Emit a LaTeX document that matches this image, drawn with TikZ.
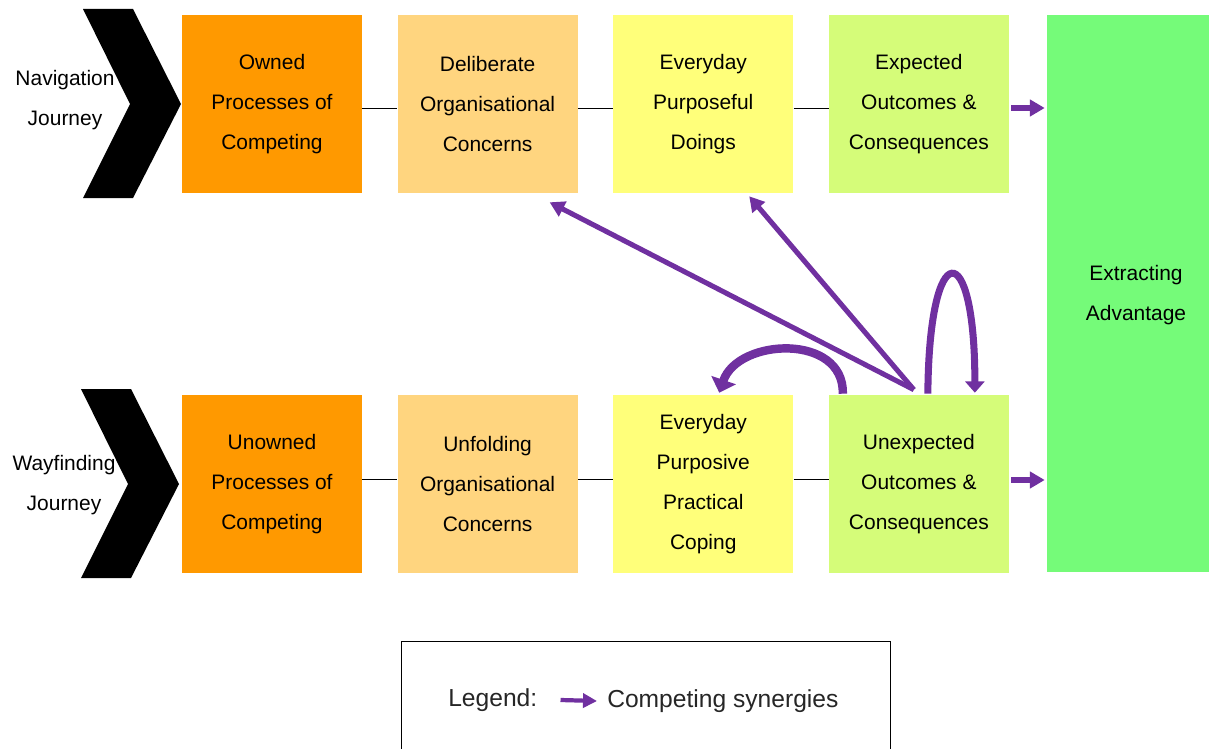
\documentclass[tikz,border=0pt]{standalone}
\usepackage{fontspec}
\setmainfont{Liberation Sans}
\usetikzlibrary{arrows.meta, positioning, calc}
\definecolor{ownedcol}{HTML}{FF9900}
\definecolor{concerncol}{HTML}{FFD57F}
\definecolor{doingcol}{HTML}{FFFF7A}
\definecolor{outcomecol}{HTML}{D5FC79}
\definecolor{advantagecol}{HTML}{75FB79}
\definecolor{synergycol}{HTML}{7030A0}
\newcommand{\diagfont}{\fontsize{14.9}{28.45}\selectfont}
\newcommand{\legendfont}{\fontsize{17.5}{21}\selectfont}

\begin{document}
\begin{tikzpicture}[
    x=0.025cm, y=-0.025cm,
    node distance=0.875cm,
    box/.style={
        minimum width=4.5cm, minimum height=4.45cm, inner sep=0pt,
        align=center, font=\diagfont
    },
    journey/.style={align=center, font=\diagfont, inner sep=0pt},
    link/.style={black, line width=0.7pt},
    synergy/.style={
        -{Triangle[length=10.5pt, width=11.5pt]}, synergycol, line width=3.6pt
    },
]
\useasboundingbox (0,0) rectangle (1209,749);

% ── Journey chevrons ──
\foreach \dy/\dx in {0/0, 380/-2}
    \fill[black] (83+\dx,9+\dy) -- (133+\dx,9+\dy) -- (181+\dx,104+\dy)
        -- (133+\dx,198+\dy) -- (83+\dx,198+\dy) -- (130+\dx,104+\dy) -- cycle;

\node[journey] (navlabel) at (65,100) {Navigation\\Journey};
\node[journey] (waylabel) at (64,485) {Wayfinding\\Journey};

% ── Top row ──
\node[box, fill=ownedcol] (owned) at (272,104)
    {Owned\\Processes of\\Competing};
\node[box, fill=concerncol, right=of owned] (deliberate)
    {Deliberate\\Organisational\\Concerns};
\node[box, fill=doingcol, right=of deliberate] (doings)
    {Everyday\\Purposeful\\Doings};
\node[box, fill=outcomecol, right=of doings] (expected)
    {Expected\\Outcomes \&\\Consequences};

% ── Bottom row ──
\node[box, fill=ownedcol] (unowned) at (272,484)
    {Unowned\\Processes of\\Competing};
\node[box, fill=concerncol, right=of unowned] (unfolding)
    {Unfolding\\Organisational\\Concerns};
\node[box, fill=doingcol, right=of unfolding] (coping)
    {Everyday\\Purposive\\Practical\\Coping};
\node[box, fill=outcomecol, right=of coping] (unexpected)
    {Unexpected\\Outcomes \&\\Consequences};

% ── Outcome ──
\node[box, fill=advantagecol, minimum width=4.05cm, minimum height=13.925cm,
      label={[xshift=0.2cm, yshift=-0.05cm, align=center, font=\diagfont]center:Extracting\\Advantage}]
    (advantage) at (1128,293.5) {};

% ── Row links ──
\draw[link] ([yshift=-0.1cm]owned.east)      -- ([yshift=-0.1cm]deliberate.west);
\draw[link] ([yshift=-0.1cm]deliberate.east) -- ([yshift=-0.1cm]doings.west);
\draw[link] ([yshift=-0.1cm]doings.east)     -- ([yshift=-0.1cm]expected.west);
\draw[link] ([yshift=0.12cm]unowned.east)    -- ([yshift=0.12cm]unfolding.west);
\draw[link] ([yshift=0.12cm]unfolding.east)  -- ([yshift=0.12cm]coping.west);
\draw[link] ([yshift=0.12cm]coping.east)     -- ([yshift=0.12cm]unexpected.west);

% ── Synergies into advantage ──
\draw[synergy] ($(expected.east)+(2,4)$) -- ($(expected.east -| advantage.west)+(-2,4)$);
\draw[synergy] ($(unexpected.east)+(2,-4)$) -- ($(unexpected.east -| advantage.west)+(-2,-4)$);

% ── Feedback synergies ──
\coordinate (hub) at ($(unexpected.north)+(-5,-5)$);
\draw[synergy] (hub) -- ($(deliberate.south)+(62,9)$);
\draw[synergy] (hub) -- ($(doings.south)+(46,3)$);

\draw[synergy, line width=5pt, -{Triangle[length=8pt, width=13.5pt]}]
    ($(unexpected.north)+(9,-1)$) .. controls (929,235) and (975,235)
    .. ($(unexpected.north)+(56,-2)$);

\draw[synergy, line width=6pt, -{Triangle[length=9.5pt, width=18pt]}]
    ($(unexpected.north)+(-76,-1)$) .. controls (844,333) and (738,338)
    .. ($(coping.north)+(16,-2)$);

% ── Legend ──
\node[draw, line width=0.7pt, minimum width=12.2cm, minimum height=3cm]
    (legend) at (646,701) {};
\node[anchor=west, inner sep=0pt, font=\legendfont, text=black!85] (legendlabel)
    at (448,700) {Legend:};
\node[anchor=west, inner sep=0pt, font=\legendfont, text=black!85] (synlabel)
    at (607,701) {Competing synergies};
\draw[synergy, line width=3pt, -{Triangle[length=10pt, width=10pt]}]
    ($(legendlabel.east)+(23,0)$) -- ($(synlabel.west)+(-10,0)$);

\end{tikzpicture}
\end{document}
